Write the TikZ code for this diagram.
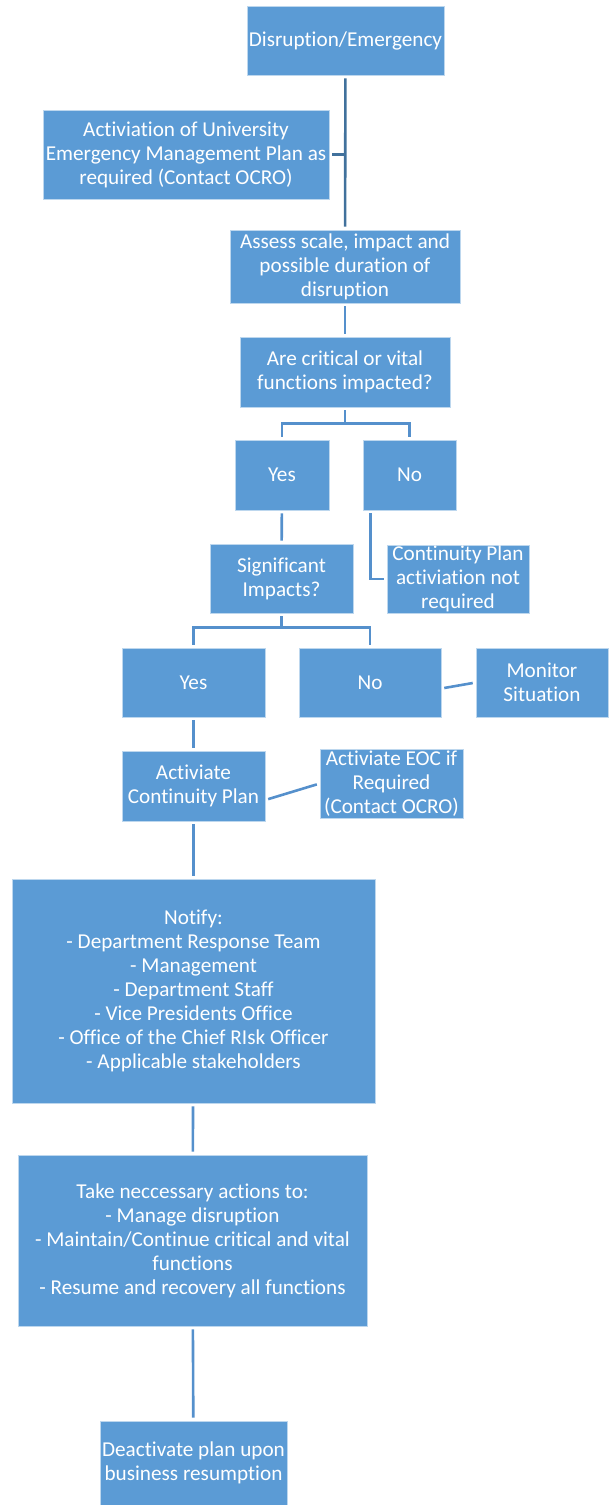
\documentclass[tikz,border=0pt]{standalone}
\usepackage{fontspec}
\setmainfont{Carlito}[Ligatures=NoCommon]
\definecolor{boxblue}{HTML}{5B9BD5}
\definecolor{boxrim}{HTML}{BDD7EE}
\definecolor{linkdark}{HTML}{41719C}
\definecolor{linkblue}{HTML}{5590CC}
\begin{document}
\begin{tikzpicture}[x=1pt, y=-1pt,
  box/.style={fill=boxblue, draw=boxrim, line width=0.6pt, text=white, align=center,
    inner sep=0pt, font=\fontsize{21.2}{24}\selectfont},
  link/.style={draw=linkblue, line width=2.6pt, shorten <=3pt, shorten >=3pt}]
  \useasboundingbox (0,0) rectangle (608,1505);
  % boxes, top to bottom
  \node[box, minimum width=197, minimum height=69] (dis) at (345.5,40.5) {Disruption/Emergency};
  \node[box, minimum width=286, minimum height=89] (act) at (186,154.5)
    {Activiation of University\\Emergency Management Plan as\\required (Contact OCRO)};
  \node[box, minimum width=230, minimum height=73] (assess) at (345,266.5)
    {Assess scale, impact and\\possible duration of\\disruption};
  \node[box, minimum width=210, minimum height=70] (crit) at (345,372)
    {Are critical or vital\\functions impacted?};
  \node[box, minimum width=94, minimum height=70] (yes1) at (282,475) {Yes};
  \node[box, minimum width=93, minimum height=70] (no1) at (409.5,475) {No};
  \node[box, minimum width=143, minimum height=69] (sig) at (281.5,578.5) {Significant\\Impacts?};
  \node[box, minimum width=142, minimum height=68] (cont) at (458,579)
    {Continuity Plan\\activiation not\\required};
  \node[box, minimum width=143, minimum height=69] (yes2) at (193.5,682.5) {Yes};
  \node[box, minimum width=142, minimum height=69] (no2) at (370,682.5) {No};
  \node[box, minimum width=132, minimum height=69] (mon) at (542,682.5) {Monitor\\Situation};
  \node[box, minimum width=143, minimum height=70] (acp) at (193.5,786) {Activiate\\Continuity Plan};
  \node[box, minimum width=143, minimum height=69] (eoc) at (391.5,783.5)
    {Activiate EOC if\\Required\\(Contact OCRO)};
  \node[box, minimum width=363, minimum height=224] (notify) at (193.5,991)
    {Notify:\\- Department Response Team\\- Management\\- Department Staff\\- Vice Presidents Office\\- Office of the Chief RIsk Officer\\- Applicable stakeholders};
  \node[box, minimum width=349, minimum height=171] (take) at (192.5,1240.5)
    {Take neccessary actions to:\\- Manage disruption\\- Maintain/Continue critical and vital\\functions\\- Resume and recovery all functions};
  \node[box, minimum width=187, minimum height=84] (deact) at (193.5,1463)
    {Deactivate plan upon\\business resumption};
  % connectors
  \draw[link, draw=linkdark] (dis) -- (assess);
  \draw[link, draw=linkdark, shorten >=0pt] (act.east) -- (act.east -| dis.south);
  \draw[link] (assess) -- (crit);
  \draw[link, shorten >=0pt] (crit.south) -- ++(0,16) coordinate (fork1);
  \draw[link, shorten >=0pt] (yes1.north) |- (fork1);
  \draw[link, shorten >=0pt] (no1.north) |- (fork1);
  \draw[link] (yes1) -- (sig);
  \draw[link] ([xshift=8pt]no1.south west) |- (cont.west);
  \draw[link, shorten >=0pt] (sig.south) -- ++(0,14) coordinate (fork2);
  \draw[link, shorten >=0pt] (yes2.north) |- (fork2);
  \draw[link, shorten >=0pt] (no2.north) |- (fork2);
  \draw[link] ([yshift=-6pt]no2.east) -- (mon.west);
  \draw[link] (yes2) -- (acp);
  \draw[link] ([yshift=-14pt]acp.east) -- (eoc.west);
  \draw[link] (acp) -- (notify);
  \draw[link] (notify) -- (take);
  \draw[link] (take) -- (deact);
\end{tikzpicture}
\end{document}
